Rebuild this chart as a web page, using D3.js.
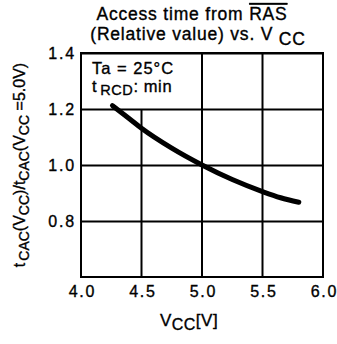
<!DOCTYPE html>
<html>
<head>
<meta charset="utf-8">
<script src="https://cdn.jsdelivr.net/npm/d3@7"></script>
<style>
  body { margin: 0; background: #fff; }
  text { font-family: "Liberation Sans", Arial, sans-serif; fill: #000; stroke: #000; stroke-width: 0.35px; }
</style>
</head>
<body>
<svg id="chart" width="337" height="344"></svg>
<script>
// values
const vcc = [4.26, 4.4, 4.5, 4.75, 5.0, 5.25, 5.5, 5.65, 5.8];
const relTime = [1.212, 1.165, 1.131, 1.06, 1.0, 0.948, 0.905, 0.883, 0.867];
const xTicks = [4.0, 4.5, 5.0, 5.5, 6.0];
const yTicks = [0.8, 1.0, 1.2, 1.4];

const margin = {top: 53, right: 14, bottom: 67, left: 81},
    width = 242,
    height = 224;

const svg = d3.select("#chart");
const g = svg.append("g")
    .attr("transform", "translate(" + margin.left + "," + margin.top + ")");

const x = d3.scaleLinear().domain([4.0, 6.0]).range([0, width]);
const y = d3.scaleLinear().domain([0.6, 1.4]).range([height, 0]);

// grid (the 4.5 line stops under the note box)
g.append("g")
    .attr("class", "grid")
    .selectAll("line")
    .data(xTicks.slice(1, -1))
    .join("line")
    .attr("x1", d => x(d)).attr("x2", d => x(d))
    .attr("y1", d => d === 4.5 ? y(1.2) : 0)
    .attr("y2", height)
    .attr("stroke", "#000").attr("stroke-width", 2);
g.append("g")
    .attr("class", "grid")
    .call(d3.axisLeft(y).tickValues(yTicks).tickSize(-width).tickFormat(""))
    .call(s => s.select(".domain").remove())
    .selectAll("line").attr("stroke", "#000").attr("stroke-width", 2);

// frame
g.append("rect")
    .attr("width", width)
    .attr("height", height)
    .attr("fill", "none")
    .attr("stroke", "#000")
    .attr("stroke-width", 2);

// tick labels
g.append("g")
    .attr("transform", "translate(0," + height + ")")
    .call(d3.axisBottom(x).tickValues(xTicks).tickSize(0).tickPadding(9).tickFormat(d3.format(".1f")))
    .call(s => s.select(".domain").remove())
    .selectAll("text")
    .style("font-size", "16px").style("letter-spacing", "1.8px")
    .attr("dx", "1px").attr("fill", "#000");
g.append("g")
    .call(d3.axisLeft(y).tickValues(yTicks).tickSize(0).tickPadding(5).tickFormat(d3.format(".1f")))
    .call(s => s.select(".domain").remove())
    .selectAll("text")
    .style("font-size", "16px").style("letter-spacing", "1.8px")
    .attr("fill", "#000");

// curve
const line = d3.line()
    .x((d, i) => x(vcc[i]))
    .y(d => y(d))
    .curve(d3.curveMonotoneX);
g.append("path")
    .datum(relTime)
    .attr("d", line)
    .attr("fill", "none")
    .attr("stroke", "#000")
    .attr("stroke-width", 5)
    .attr("stroke-linecap", "round");

// annotation
const note = g.append("text").attr("x", 11).attr("y", 21)
    .style("font-size", "16.5px").style("letter-spacing", "1px");
note.text("Ta = 25°C");
const note2 = g.append("text").attr("x", 11).attr("y", 39)
    .style("font-size", "16.5px").style("letter-spacing", "0.6px");
note2.append("tspan").text("t");
note2.append("tspan").attr("dx", 3).attr("dy", 3).style("font-size", "14.5px").text("RCD");
note2.append("tspan").attr("dy", -3).text(": min");

// title
const t1 = svg.append("text")
    .attr("x", 192).attr("y", 20)
    .attr("text-anchor", "middle")
    .style("font-size", "17.5px").style("letter-spacing", "0.8px");
t1.append("tspan").text("Access time from ");
t1.append("tspan").style("text-decoration", "overline").text("RAS");
const t2 = svg.append("text")
    .attr("x", 198).attr("y", 40)
    .attr("text-anchor", "middle")
    .style("font-size", "17.5px").style("letter-spacing", "0.8px");
t2.append("tspan").text("(Relative value) vs. V ");
t2.append("tspan").attr("dy", 5).text("CC");

// x title
const xt = svg.append("text")
    .attr("x", 189).attr("y", 326)
    .attr("text-anchor", "middle")
    .style("font-size", "17px").style("letter-spacing", "0.5px");
xt.append("tspan").text("V");
xt.append("tspan").attr("dy", 4).style("font-size", "16px").text("CC");
xt.append("tspan").attr("dy", -4).text("[V]");

// y title
const yt = svg.append("text")
    .attr("transform", "translate(25," + (margin.top + height / 2) + ") rotate(-90)")
    .attr("text-anchor", "middle")
    .style("font-size", "16px");
yt.append("tspan").text("t");
yt.append("tspan").attr("dx", 2).attr("dy", 4).style("font-size", "14px").text("CAC");
yt.append("tspan").attr("dy", -4).text("(V");
yt.append("tspan").attr("dy", 4).style("font-size", "14px").text("CC");
yt.append("tspan").attr("dy", -4).text(")/t");
yt.append("tspan").attr("dy", 4).style("font-size", "14px").text("CAC");
yt.append("tspan").attr("dy", -4).text("(V");
yt.append("tspan").attr("dy", 4).style("font-size", "14px").text("CC");
yt.append("tspan").attr("dy", -4).text(" =5.0V)");
</script>
</body>
</html>
